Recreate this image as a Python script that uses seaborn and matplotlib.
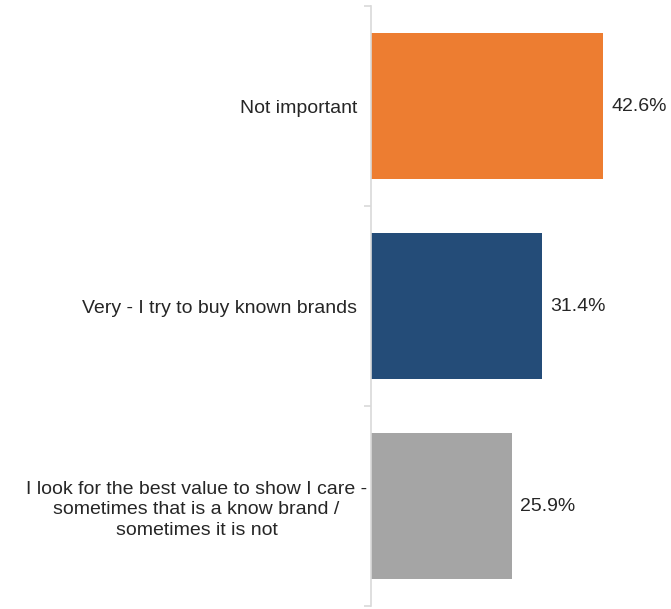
import matplotlib
matplotlib.use("Agg")
import matplotlib.pyplot as plt
import matplotlib.transforms as mtransforms
import seaborn as sns
import pandas as pd

categories = [
    "Not important",
    "Very - I try to buy known brands",
    "I look for the best value to show I care -\nsometimes that is a know brand /\nsometimes it is not",
]
values = [42.6, 31.4, 25.9]
colors = ["#ED7D31", "#244C78", "#A5A5A5"]

sns.set_theme(style="white")
plt.rcParams["font.family"] = ["Liberation Sans", "DejaVu Sans"]

df = pd.DataFrame({"category": categories, "value": values})

fig = plt.figure(figsize=(6.71, 6.09), dpi=100)
ax = fig.add_axes([371 / 671, 3 / 609, 300 / 671, 600 / 609])

sns.barplot(
    data=df, x="value", y="category", hue="category",
    palette=colors, orient="h", width=0.73, ax=ax,
    legend=False, saturation=1, edgecolor="none",
)

ax.set_xlim(0, 300 / 5.446)
ax.set_ylim(2.5, -0.5)
ax.set_xlabel("")
ax.set_ylabel("")
ax.set_xticks([])

# category boundary ticks on the left spine
ax.set_yticks([-0.5, 0.5, 1.5, 2.5], minor=True)
ax.tick_params(axis="y", which="minor", length=5, width=1.2,
               color="#D9D9D9", left=True)
ax.tick_params(axis="y", which="major", length=0, pad=10,
               labelsize=14, labelcolor="#262626")
labels = ax.get_yticklabels()
for lbl in labels:
    lbl.set_multialignment("center")
    lbl.set_linespacing(1.3)
# the long wrapped label sits a little closer to the axis
labels[2].set_transform(labels[2].get_transform() +
                        mtransforms.ScaledTranslation(10 / 100, 0, fig.dpi_scale_trans))

for s in ["top", "right", "bottom"]:
    ax.spines[s].set_visible(False)
ax.spines["left"].set_color("#D9D9D9")
ax.spines["left"].set_linewidth(1.2)

for i, v in enumerate(values):
    ax.annotate(f"{v:.1f}%", xy=(v, i), xytext=(6, 0),
                textcoords="offset points", va="center", ha="left",
                fontsize=14, color="#262626")

fig.savefig("out.png", dpi=100)
